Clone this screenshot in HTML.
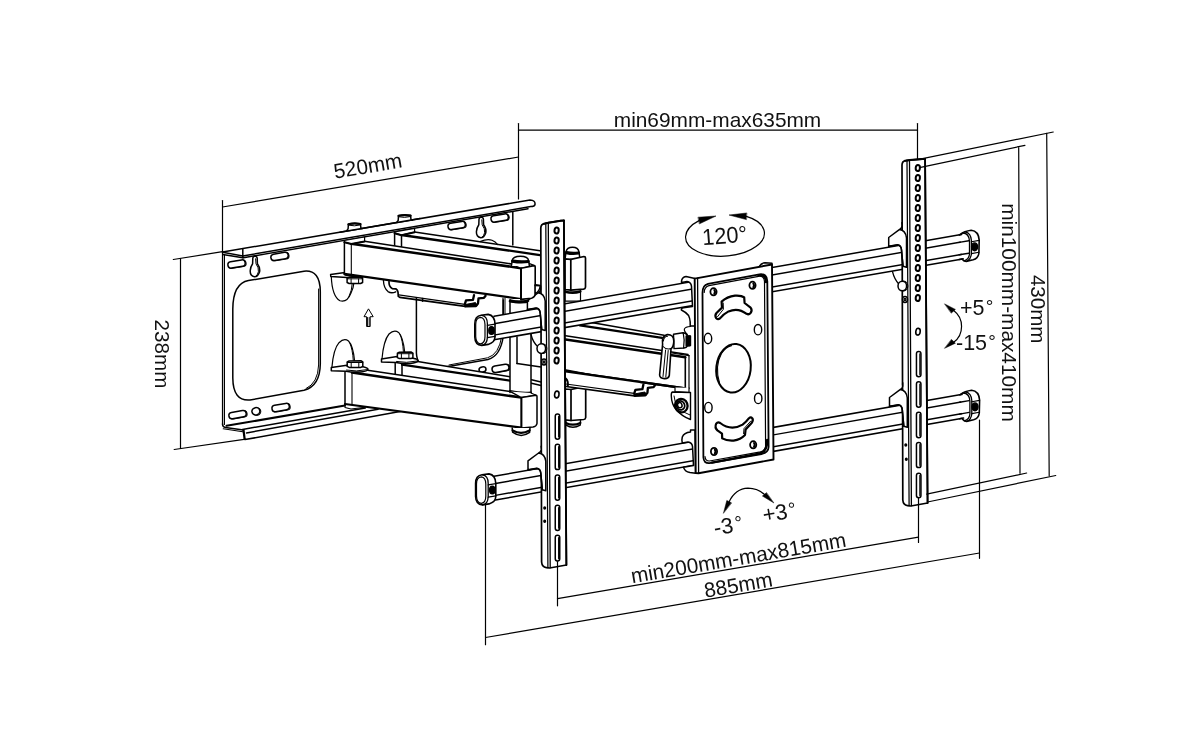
<!DOCTYPE html>
<html lang="en"><head><meta charset="utf-8"><title>TV wall mount dimensions</title>
<style>
html,body{margin:0;padding:0;background:#fff;}
body{width:1200px;height:750px;overflow:hidden;font-family:"Liberation Sans",sans-serif;}
svg{display:block;filter:grayscale(1);}
svg .ln *{fill:none;stroke:#000;stroke-linecap:round;stroke-linejoin:round;}
svg .ln .w{fill:#fff;}
svg .ln .k{fill:#000;}
svg text{font-family:"Liberation Sans",sans-serif;fill:#111;stroke:none;}
</style></head><body>
<svg width="1200" height="750" viewBox="0 0 1200 750">
<rect width="1200" height="750" fill="#fff"/>
<g class="ln">
<g id="plate">
<path class="w" d="M222.6 252.5 L222.6 423 Q222.6 427 226 427.2 L242.5 430.8 L245 439.2 L398 412.5 L512.8 380 L512.8 209.7 L242.8 255.9 Z" stroke-width="0.01"/>
<line x1="222.5" y1="252.5" x2="222.5" y2="424.0" stroke-width="1.2"/>
<line x1="224.4" y1="254.5" x2="224.4" y2="424.5" stroke-width="1.2"/>
<path d="M222.5 424 Q222.6 427.2 225.5 427.6 L243.3 430" stroke-width="1.5"/>
<path d="M223.2 428.8 L242.8 431.8" stroke-width="1.1"/>
<line x1="226.5" y1="425.8" x2="345.0" y2="405.6" stroke-width="2.0"/>
<line x1="242.5" y1="429.4" x2="365.3" y2="407.9" stroke-width="1.5"/>
<line x1="246.5" y1="432.9" x2="378.0" y2="409.3" stroke-width="1.5"/>
<line x1="245.0" y1="439.6" x2="400.0" y2="411.6" stroke-width="1.5"/>
<path d="M243.5 430 L244.6 438.8" stroke-width="2.2"/>
<path class="w" d="M222.6 252.0 L530 200.0 Q535.5 200.2 535 204.5 Q534.5 206.6 530.8 206.6 L242.8 255.9" stroke-width="1.5"/>
<line x1="243.5" y1="257.7" x2="528.0" y2="208.7" stroke-width="1.5"/>
<line x1="222.6" y1="252.2" x2="242.8" y2="255.9" stroke-width="1.5"/>
<line x1="222.8" y1="254.4" x2="242.8" y2="257.8" stroke-width="1.5"/>
<line x1="242.8" y1="249.0" x2="242.8" y2="257.8" stroke-width="1.5"/>
<line x1="512.8" y1="212.0" x2="512.8" y2="245.0" stroke-width="1.5"/>
<rect x="228.7" y="261.1" width="17.5" height="6.4" rx="3.2" transform="rotate(-9.5 237.4 264.3)" stroke-width="1.0"/>
<rect class="w" x="227.8" y="260.8" width="17.5" height="6.4" rx="3.2" transform="rotate(-9.5 236.5 264.0)" stroke-width="1.5"/>
<rect x="271.6" y="253.5" width="17.5" height="6.4" rx="3.2" transform="rotate(-9.5 280.4 256.7)" stroke-width="1.0"/>
<rect class="w" x="270.8" y="253.2" width="17.5" height="6.4" rx="3.2" transform="rotate(-9.5 279.5 256.4)" stroke-width="1.5"/>
<rect x="448.8" y="222.6" width="17.5" height="6.4" rx="3.2" transform="rotate(-9.5 457.6 225.8)" stroke-width="1.0"/>
<rect class="w" x="447.9" y="222.3" width="17.5" height="6.4" rx="3.2" transform="rotate(-9.5 456.7 225.5)" stroke-width="1.5"/>
<rect x="491.8" y="215.1" width="17.5" height="6.4" rx="3.2" transform="rotate(-9.5 500.5 218.3)" stroke-width="1.0"/>
<rect class="w" x="490.9" y="214.8" width="17.5" height="6.4" rx="3.2" transform="rotate(-9.5 499.6 218.0)" stroke-width="1.5"/>
<path class="w" d="M252.8 258.2 Q253.0 256.2 255.0 256.2 Q257.0 256.2 257.2 258.2 L257.4 263.8 Q260.3 267.8 259.6 271.8 Q258.0 276.8 254.5 276.8 Q250.0 275.8 250.2 270.8 Q250.5 266.8 252.6 263.8 Z" stroke-width="1.5"/>
<path d="M255.6 258.8 L256.0 263.8 Q259.0 267.8 258.4 271.8 Q257.6 274.8 256.0 276.2" stroke-width="1.0"/>
<path class="w" d="M479.0 219.2 Q479.2 217.2 481.2 217.2 Q483.2 217.2 483.4 219.2 L483.6 224.8 Q486.5 228.8 485.8 232.8 Q484.2 237.8 480.7 237.8 Q476.2 236.8 476.4 231.8 Q476.7 227.8 478.8 224.8 Z" stroke-width="1.5"/>
<path d="M481.8 219.8 L482.2 224.8 Q485.2 228.8 484.6 232.8 Q483.8 235.8 482.2 237.2" stroke-width="1.0"/>
<rect x="229.7" y="411.7" width="17.5" height="6.4" rx="3.2" transform="rotate(-10 238.4 414.9)" stroke-width="1.0"/>
<rect class="w" x="228.8" y="411.4" width="17.5" height="6.4" rx="3.2" transform="rotate(-10 237.5 414.6)" stroke-width="1.5"/>
<rect x="272.8" y="404.6" width="17.5" height="6.4" rx="3.2" transform="rotate(-10 281.6 407.8)" stroke-width="1.0"/>
<rect class="w" x="271.9" y="404.3" width="17.5" height="6.4" rx="3.2" transform="rotate(-10 280.7 407.5)" stroke-width="1.5"/>
<ellipse cx="256.8" cy="411.6" rx="4.0" ry="3.7" transform="rotate(-10 256.8 411.6)" stroke-width="1.0"/>
<ellipse class="w" cx="255.9" cy="411.3" rx="4.0" ry="3.7" transform="rotate(-10 255.9 411.3)" stroke-width="1.5"/>
<rect x="492.9" y="365.4" width="17.0" height="6.4" rx="3.2" transform="rotate(-10 501.4 368.6)" stroke-width="1.0"/>
<rect class="w" x="492.0" y="365.1" width="17.0" height="6.4" rx="3.2" transform="rotate(-10 500.5 368.3)" stroke-width="1.5"/>
<ellipse cx="482.5" cy="369.5" rx="3.5" ry="2.6" transform="rotate(-10 482.5 369.5)" stroke-width="1.5"/>
<path d="M232.8 309 Q233 283.5 248.5 280.6 L304 271.2 Q320.3 269.5 320.3 292 L320.3 364 Q320 386 304 390.3 L250 400 Q233 401.5 232.8 378 Z" stroke-width="1.5"/>
<path d="M318.6 289 L318.6 365 Q318 383 306 388.6" stroke-width="1.0"/>
<path d="M368.3 309.2 L364 316.7 L366.6 316.7 L366.6 326.5 L370.2 326.5 L370.2 316.7 L372.8 316.7 Z" stroke-width="1.0"/>
<path d="M367.5 317.5 L367.5 326 M369.2 317.5 L369.2 326" stroke-width="0.9"/>
<path d="M416.4 298 L416.4 353 Q417 367 430 369.6 L447 366.8 L488 359.4 Q500.5 356.2 503.3 336 L503.3 300" stroke-width="1.5"/>
<path d="M449 365 L487.5 357.8 Q499 354.6 501.8 336" stroke-width="1.0"/>
</g>
<g id="arms">
<path class="w" d="M331.3 276.4 Q332 296 340 300.8 Q347 303 351 293 Q353.5 288 353.8 283.5" stroke-width="1.2"/>
<path d="M352.2 284 Q352 290 349 296.5" stroke-width="1.0"/>
<path class="w" d="M330.6 274.6 L345 272.6 L345 275 L362.6 277.5 L347 277.6 L330.8 276.5 Z" stroke-width="1.5"/>
<path class="w" d="M347.1 278.3 L349.1 277.3 L360.6 277.0 L362.6 278.3 L362.6 282.5 L360.6 283.5 L349.1 283.5 L347.1 282.5 Z" stroke-width="1.5"/>
<path d="M351.1 278.8 L351.1 283.5 M358.6 278.8 L358.6 283.5 M347.1 278.8 L362.6 278.8" stroke-width="1.0"/>
<path class="w" d="M394.6 232.5 L414.6 230.5 L540.0 250.7 L540.0 262.0 L401.5 246.0 L394.6 245.7 Z" stroke-width="0.01"/>
<line x1="394.6" y1="232.5" x2="394.6" y2="245.7" stroke-width="1.5"/>
<line x1="401.5" y1="235.0" x2="401.5" y2="246.5" stroke-width="1.5"/>
<line x1="414.6" y1="231.9" x2="540.0" y2="250.7" stroke-width="1.5"/>
<path d="M401.5 235.0 L540 255.1" stroke-width="2.3"/>
<path d="M480 241.6 Q487 238.6 492 240.2 Q495.5 241.6 497.6 244.5" stroke-width="1.2"/>
<path class="w" d="M394.6 231.8 L414.6 228.4 L414.6 232 L401.5 235.2 L394.6 233.2 Z" stroke-width="1.2"/>
<path d="M394.6 233.2 L401.5 235.2 L414.6 232.2" stroke-width="2.0"/>
<path class="w" d="M344.4 241.9 L364.5 241.3 L511.4 263.9 L521.0 268.2 L521.0 299.0 L344.4 273.9 Z" stroke-width="0.01"/>
<line x1="344.4" y1="241.9" x2="344.4" y2="273.9" stroke-width="1.5"/>
<line x1="351.3" y1="243.8" x2="351.3" y2="274.8" stroke-width="1.1"/>
<line x1="364.5" y1="241.3" x2="511.4" y2="263.9" stroke-width="1.5"/>
<path d="M351.3 243.8 L521 268.2" stroke-width="2.5"/>
<path d="M344.4 273.9 L521 299" stroke-width="2.2"/>
<path class="w" d="M344.4 240.5 L364.6 237 L364.6 241.3 L351.3 244 L344.4 242.2 Z" stroke-width="1.2"/>
<path d="M344.4 242.2 L351.3 244 L364.6 241.5" stroke-width="2.0"/>
<path class="w" d="M346.8 230.6 L348.1 228.8 L348.4 224.2 Q354.3 222.8 360.5 224.0 L360.9 228.2 L362.1 228.6" stroke-width="1.5"/>
<path d="M348.4 224.2 Q354.3 222.8 360.5 224.0" stroke-width="2.2"/>
<path d="M348.7 225.2 Q354.3 226.6 360.3 225.0" stroke-width="1.0"/>
<path class="w" d="M396.9 222.2 L398.2 220.4 L398.5 215.8 Q404.4 214.4 410.6 215.6 L411.0 219.8 L412.2 220.2" stroke-width="1.5"/>
<path d="M398.5 215.8 Q404.4 214.4 410.6 215.6" stroke-width="2.2"/>
<path d="M398.8 216.8 Q404.4 218.2 410.4 216.6" stroke-width="1.0"/>
<line x1="340.0" y1="232.2" x2="420.0" y2="218.6" stroke-width="1.5"/>
<path d="M383.4 280.1 Q383.6 288 388 291.6 Q391.4 293.8 395.8 291.8" stroke-width="1.3"/>
<path d="M389 281.7 Q388.8 286.6 392.2 288.6 L395.8 288.8 Q397.8 290 398 292 L398.3 296.4 L399.8 297.4 L465.3 306.4" stroke-width="1.7"/>
<path d="M398.8 294.8 L464.8 304.3" stroke-width="1.2"/>
<line x1="422.6" y1="298.6" x2="422.6" y2="301.2" stroke-width="1.6"/>
<path d="M465.3 306.4 L476.0 306.0 L478.0 303.5 L478.5 298.4 L484.0 297.8 L485.6 295.8" stroke-width="2.3"/>
<path d="M464.8 304.3 L466.0 300.4 L473.0 299.8 L474.0 295.2" stroke-width="2.3"/>
<path class="k" d="M465.0 304.6 L475.5 302.6 L477.0 305.6 L465.3 306.2 Z" stroke-width="1.0"/>
<path class="w" d="M331.9 367.4 Q333.5 349 339 342.7 Q344 337.8 348.5 341 Q353 345.5 354.6 361" stroke-width="1.2"/>
<path d="M350 343.5 Q352.5 349 353.3 360.5" stroke-width="1.0"/>
<path class="w" d="M382 358.8 Q383.6 340.5 389 334 Q394 329.2 398.6 332.4 Q403 337 404.7 352" stroke-width="1.2"/>
<path d="M400 334.5 Q402.6 340 403.4 351.5" stroke-width="1.0"/>
<path class="w" d="M395.2 363.2 L417.7 361.3 L512.0 377.2 L540.0 382.0 L540.0 392.0 L402.0 375.0 L395.2 374.5 Z" stroke-width="0.01"/>
<line x1="395.2" y1="363.5" x2="395.2" y2="374.5" stroke-width="1.5"/>
<line x1="402.0" y1="364.5" x2="402.0" y2="375.0" stroke-width="1.5"/>
<line x1="417.7" y1="361.6" x2="511.0" y2="377.0" stroke-width="1.5"/>
<path d="M402 364.6 L511 380.8" stroke-width="2.3"/>
<line x1="531.5" y1="379.7" x2="541.0" y2="382.0" stroke-width="1.5"/>
<line x1="531.5" y1="383.2" x2="541.0" y2="385.4" stroke-width="1.5"/>
<path class="w" d="M381.5 359 L397 356.6 L413 358.3 Q418 359.2 418 360.8 Q417.5 362.8 410 363.4 Q402 363.8 396 362.6 L381.5 362 Z" stroke-width="1.5"/>
<path d="M396.5 361.5 Q406 363.5 417.5 361" stroke-width="1.0"/>
<path class="w" d="M397.4 353.2 L399.4 352.2 L410.9 351.9 L412.9 353.2 L412.9 357.6 L410.9 358.6 L399.4 358.6 L397.4 357.6 Z" stroke-width="1.5"/>
<path d="M401.4 353.7 L401.4 358.6 M408.9 353.7 L408.9 358.6 M397.4 353.7 L412.9 353.7" stroke-width="1.0"/>
<path class="w" d="M345.0 372.0 L367.6 370.1 L510.0 391.4 L521.4 397.6 L521.4 427.7 L345.0 404.0 Z" stroke-width="0.01"/>
<line x1="345.0" y1="372.0" x2="345.0" y2="404.0" stroke-width="1.5"/>
<line x1="352.0" y1="372.8" x2="352.0" y2="404.6" stroke-width="1.1"/>
<line x1="367.6" y1="370.3" x2="510.0" y2="391.4" stroke-width="1.5"/>
<path d="M352 372.6 L521.4 397.6" stroke-width="2.5"/>
<path d="M345 404 L521.4 427.7" stroke-width="2.2"/>
<path d="M345 404 L345 407.5 L351 409 L365 407.2" stroke-width="1.1"/>
<path class="w" d="M331.3 367.6 L347 365.3 L363 366.8 Q368 367.8 368 369.4 Q367.5 371.4 360 372 Q352 372.4 346 371.2 L331.3 370.8 Z" stroke-width="1.5"/>
<path d="M346.5 370.1 Q356 372.1 367.5 369.6" stroke-width="1.0"/>
<path class="w" d="M347.2 362.0 L349.2 361.0 L360.8 360.7 L362.8 362.0 L362.8 366.4 L360.8 367.4 L349.2 367.4 L347.2 366.4 Z" stroke-width="1.5"/>
<path d="M351.2 362.5 L351.2 367.4 M358.8 362.5 L358.8 367.4 M347.2 362.5 L362.8 362.5" stroke-width="1.0"/>
<path class="w" d="M510 299 L510 393 L531 396 L531 299 Z" stroke-width="0.01"/>
<line x1="510.0" y1="300.0" x2="510.0" y2="392.6" stroke-width="1.5"/>
<line x1="531.0" y1="300.0" x2="531.0" y2="394.0" stroke-width="1.5"/>
<line x1="503.0" y1="298.0" x2="503.0" y2="320.0" stroke-width="1.2"/>
<line x1="505.0" y1="298.0" x2="505.0" y2="320.0" stroke-width="1.0"/>
<line x1="517.0" y1="337.0" x2="517.0" y2="363.5" stroke-width="1.5"/>
<path d="M517 363.5 L541 367" stroke-width="1.6"/>
<path d="M510 301.5 Q520 304 531 301.5" stroke-width="1.6"/>
<path d="M510 299.8 Q520 302.3 531 299.8" stroke-width="1.2"/>
<path d="M510 391 Q520 393.5 531 392.6" stroke-width="2.0"/>
<path class="w" d="M510 391.4 L521.4 397.6 L536 395.2 L531 393" stroke-width="1.2"/>
<path class="w" d="M521.4 397.6 L536 395.2 Q537 395.3 537 396.5 L537 423.5 Q536.5 426.5 533 427 L521.4 428 Z" stroke-width="1.5"/>
<line x1="521.4" y1="397.6" x2="521.4" y2="428.0" stroke-width="1.8"/>
<path class="w" d="M512.2 428 L512.6 432.2 Q521 438.6 529.6 432.4 L530 428" stroke-width="1.5"/>
<path d="M512.6 430.4 Q521 435.4 529.6 430.4" stroke-width="2.2"/>
<path class="w" d="M580.0 325.0 L597.6 323.2 L664.0 335.0 L664.0 352.0 L580.0 338.0 Z" stroke-width="0.01"/>
<line x1="590.0" y1="322.3" x2="664.0" y2="335.3" stroke-width="1.5"/>
<path d="M580 325.3 L662 337.8" stroke-width="2.3"/>
<path class="w" d="M565.6 335.7 L687.8 354.5 L689.0 355.0 L689.0 388.6 L565.6 371.4 Z" stroke-width="0.01"/>
<line x1="565.6" y1="335.7" x2="688.0" y2="354.6" stroke-width="1.5"/>
<path d="M565.6 339.5 L685.3 357.2" stroke-width="2.5"/>
<path d="M565.6 371.4 L685.3 388.3" stroke-width="2.2"/>
<line x1="685.3" y1="357.2" x2="685.3" y2="388.3" stroke-width="1.6"/>
<line x1="689.0" y1="355.5" x2="689.0" y2="388.6" stroke-width="1.2"/>
<path d="M672 353 L689 355.6" stroke-width="1.2"/>
<path class="w" d="M565.7 420.5 L566.0 425.1 Q572.7 429.5 580.2 425.1 L580.5 420.5" stroke-width="1.4"/>
<path d="M565.8 422.9 Q572.7 426.5 580.4 422.9" stroke-width="2.2"/>
<path class="w" d="M565.2 389.0 L571.0 389.5 L584.2 386.7 Q585.7 386.7 585.7 388.3 L585.7 417.5 Q585.5 419.3 583.7 419.5 L571.0 420.5 L565.2 419.9 Z" stroke-width="1.7"/>
<line x1="571.0" y1="389.5" x2="571.0" y2="420.5" stroke-width="1.7"/>
<path class="w" d="M565.6 371.4 L640.0 382.0 L634.6 395.9 L565.6 386.5 Z" stroke-width="0.01"/>
<path d="M565.6 371.4 L685.3 388.3" stroke-width="2.2"/>
<path d="M566 386.5 L634.6 395.9" stroke-width="1.7"/>
<path d="M566 384 L634 393.4" stroke-width="1.2"/>
<path d="M565.8 378.6 Q568.4 381 567.8 386" stroke-width="2.0"/>
<path d="M634.7 395.8 L645.4 395.4 L647.4 392.9 L647.9 387.8 L653.4 387.2 L655.0 385.2" stroke-width="2.3"/>
<path d="M634.2 393.7 L635.4 389.8 L642.4 389.2 L643.4 384.6" stroke-width="2.3"/>
<path class="k" d="M634.4 394.0 L644.9 392.0 L646.4 395.0 L634.7 395.6 Z" stroke-width="1.0"/>
<line x1="566.0" y1="370.0" x2="600.0" y2="376.3" stroke-width="1.3"/>
<path class="w" d="M565.2 257.8 L566.0 252.0 Q566.8 247.3 572.5 247.3 Q578.2 247.3 579.0 252.0 L579.8 257.8" stroke-width="1.5"/>
<path d="M566.5 252.6 Q572.5 254.0 578.5 253.0" stroke-width="3.2"/>
<path class="w" d="M565.0 290.1 L565.0 301.1 L580.5 301.1 L580.5 290.1" stroke-width="1.2"/>
<path class="w" d="M565.0 258.8 L570.8 259.3 L584.0 256.5 Q585.5 256.5 585.5 258.1 L585.5 287.1 Q585.3 288.9 583.5 289.1 L570.8 290.1 L565.0 289.5 Z" stroke-width="1.7"/>
<line x1="570.8" y1="259.3" x2="570.8" y2="290.1" stroke-width="1.7"/>
<path d="M565.4 291.7 Q573.0 293.7 580.3 291.5" stroke-width="2.6"/>
<path class="w" d="M675 387.6 L675 391.5 L689 392.5 L689 387.8" stroke-width="1.2"/>
<path class="w" d="M672.5 392 Q671 392.5 671.3 396 Q671.5 404 676 409.5 Q682 416.5 690.5 419.5 L690.5 392.5 Z" stroke-width="1.4"/>
<path d="M674 396 Q674.5 403 678.5 408 Q683 412.5 690 415" stroke-width="1.0"/>
<ellipse class="w" cx="681.3" cy="405.6" rx="6.2" ry="6.8" transform="rotate(-20 681.3 405.6)" stroke-width="2.3"/>
<ellipse cx="680.6" cy="405.4" rx="4.0" ry="4.5" transform="rotate(-20 680.6 405.4)" stroke-width="1.8"/>
<ellipse cx="679.8" cy="405.2" rx="2.2" ry="2.6" transform="rotate(-20 679.8 405.2)" stroke-width="1.5"/>
<path class="w" d="M673.5 334.2 L683 332.8 Q686 333 687.5 336 L690.5 336 L690.5 345.6 L687.5 345.8 Q686.5 347.6 684 348 L674 348.6 Z" stroke-width="1.4"/>
<path d="M683.2 333 Q685 340 683.6 347.8" stroke-width="1.2"/>
<path d="M686.3 336.2 L686.3 345.8 M688 336 L688 345.8 M689.6 336 L689.6 345.6" stroke-width="1.7"/>
<path d="M687.3 334.5 Q680 327.2 690.5 326.5" stroke-width="1.2"/>
<path class="w" d="M662.6 344.5 Q661.2 336 667.2 334.6 Q673.6 334.2 673.8 341 Q673.8 346.5 671 348.8 L669.3 375.5 Q668.5 378.8 664.5 378.6 Q659.8 378.4 659.6 375 Z" stroke-width="1.6"/>
<path d="M663.4 341 Q663.8 336.6 667.5 336.3" stroke-width="1.1"/>
<path d="M665.6 350 L663 376.5 M668.2 350.5 L665.8 377" stroke-width="1.0"/>
<path d="M662.4 346 Q666 350 671 348.6" stroke-width="1.1"/>
</g>
<g id="tubes">
<path class="w" d="M494.0 316.2 L964.0 234.0 L964.0 258.7 L494.0 339.8 Z" stroke-width="0.01"/>
<line x1="494.0" y1="316.2" x2="964.0" y2="234.0" stroke-width="1.5"/>
<line x1="494.0" y1="323.7" x2="964.0" y2="241.5" stroke-width="1.45"/>
<line x1="494.0" y1="335.1" x2="964.0" y2="254.0" stroke-width="1.45"/>
<line x1="494.0" y1="339.8" x2="964.0" y2="258.7" stroke-width="1.5"/>
<path class="w" d="M481.2 315.3 Q474.8 316.0 474.8 324.0 L474.8 337.0 Q475.0 345.0 481.7 345.4 L488.2 344.4 Q494.8 342.5 495.0 337.0 L495.0 324.0 Q494.7 315.5 488.2 314.4 Z" stroke-width="1.6"/>
<path d="M480.6 317.4 Q475.7 317.8 475.7 324.5 L475.7 336.5 Q475.9 343.4 480.6 343.8 Q485.0 343.2 485.0 336.5 L485.0 324.5 Q484.8 317.8 480.6 317.4 Z" stroke-width="1.2"/>
<path d="M481.7 315.4 Q487.4 316.0 487.4 324.0 L487.4 337.0 Q487.2 344.6 481.7 345.4" stroke-width="1.3"/>
<line x1="487.4" y1="325.4" x2="495.0" y2="324.2" stroke-width="1.2"/>
<line x1="487.4" y1="337.6" x2="495.0" y2="336.4" stroke-width="1.2"/>
<ellipse class="k" cx="491.5" cy="330.5" rx="2.7" ry="3.9" transform="rotate(0 491.5 330.5)" stroke-width="1.4"/>
<path class="w" d="M960.2 234.4 Q964.2 231.2 971.2 230.2 Q978.6 231.0 979.2 240.0 L978.9 253.0 Q978.2 258.5 973.2 259.8 L966.2 261.4 Q963.6 261.2 962.2 259.2 Z" stroke-width="0.01"/>
<line x1="959.2" y1="234.9" x2="961.7" y2="234.4" stroke-width="1.5"/>
<line x1="959.2" y1="242.4" x2="968.8" y2="240.7" stroke-width="1.45"/>
<line x1="959.2" y1="254.8" x2="968.8" y2="253.2" stroke-width="1.45"/>
<line x1="959.2" y1="259.5" x2="963.2" y2="258.8" stroke-width="1.5"/>
<path d="M960.2 234.4 Q964.2 231.2 971.2 230.2 Q978.6 231.0 979.2 240.0 L978.9 253.0 Q978.2 258.5 973.2 259.8 L966.2 261.4 Q963.6 261.2 962.2 259.2" stroke-width="1.6"/>
<path d="M962.7 233.0 Q969.0 233.2 969.5 241.0 L969.5 254.0 Q969.0 259.4 964.2 260.8" stroke-width="1.3"/>
<path d="M965.2 231.8 Q971.0 233.0 971.4 240.5 L971.4 254.0 Q970.8 259.0 967.2 261.0" stroke-width="1.3"/>
<line x1="971.4" y1="241.8" x2="979.2" y2="240.4" stroke-width="1.1"/>
<line x1="971.4" y1="253.6" x2="978.9" y2="252.2" stroke-width="1.1"/>
<ellipse class="k" cx="974.6" cy="246.8" rx="3.0" ry="3.9" transform="rotate(0 974.6 246.8)" stroke-width="1.4"/>
<path class="w" d="M494.0 476.3 L964.0 394.0 L964.0 418.0 L494.0 500.3 Z" stroke-width="0.01"/>
<line x1="494.0" y1="476.3" x2="964.0" y2="394.0" stroke-width="1.5"/>
<line x1="494.0" y1="483.8" x2="964.0" y2="401.5" stroke-width="1.45"/>
<line x1="494.0" y1="495.6" x2="964.0" y2="413.3" stroke-width="1.45"/>
<line x1="494.0" y1="500.3" x2="964.0" y2="418.0" stroke-width="1.5"/>
<path class="w" d="M482.0 474.8 Q475.6 475.5 475.6 483.5 L475.6 496.5 Q475.8 504.5 482.5 504.9 L489.0 503.9 Q495.6 502.0 495.8 496.5 L495.8 483.5 Q495.5 475.0 489.0 473.9 Z" stroke-width="1.6"/>
<path d="M481.4 476.9 Q476.5 477.3 476.5 484.0 L476.5 496.0 Q476.7 502.9 481.4 503.3 Q485.8 502.7 485.8 496.0 L485.8 484.0 Q485.6 477.3 481.4 476.9 Z" stroke-width="1.2"/>
<path d="M482.5 474.9 Q488.2 475.5 488.2 483.5 L488.2 496.5 Q488.0 504.1 482.5 504.9" stroke-width="1.3"/>
<line x1="488.2" y1="484.9" x2="495.8" y2="483.7" stroke-width="1.2"/>
<line x1="488.2" y1="497.1" x2="495.8" y2="495.9" stroke-width="1.2"/>
<ellipse class="k" cx="492.3" cy="490.0" rx="2.7" ry="3.9" transform="rotate(0 492.3 490.0)" stroke-width="1.4"/>
<path class="w" d="M960.6 394.4 Q964.6 391.2 971.6 390.2 Q979.0 391.0 979.6 400.0 L979.3 413.0 Q978.6 418.5 973.6 419.8 L966.6 421.4 Q964.0 421.2 962.6 419.2 Z" stroke-width="0.01"/>
<line x1="959.6" y1="394.8" x2="962.1" y2="394.4" stroke-width="1.5"/>
<line x1="959.6" y1="402.3" x2="969.2" y2="400.6" stroke-width="1.45"/>
<line x1="959.6" y1="414.1" x2="969.2" y2="412.4" stroke-width="1.45"/>
<line x1="959.6" y1="418.8" x2="963.6" y2="418.1" stroke-width="1.5"/>
<path d="M960.6 394.4 Q964.6 391.2 971.6 390.2 Q979.0 391.0 979.6 400.0 L979.3 413.0 Q978.6 418.5 973.6 419.8 L966.6 421.4 Q964.0 421.2 962.6 419.2" stroke-width="1.6"/>
<path d="M963.1 393.0 Q969.4 393.2 969.9 401.0 L969.9 414.0 Q969.4 419.4 964.6 420.8" stroke-width="1.3"/>
<path d="M965.6 391.8 Q971.4 393.0 971.8 400.5 L971.8 414.0 Q971.2 419.0 967.6 421.0" stroke-width="1.3"/>
<line x1="971.8" y1="401.8" x2="979.6" y2="400.4" stroke-width="1.1"/>
<line x1="971.8" y1="413.6" x2="979.3" y2="412.2" stroke-width="1.1"/>
<ellipse class="k" cx="975.0" cy="406.8" rx="3.0" ry="3.9" transform="rotate(0 975.0 406.8)" stroke-width="1.4"/>
</g>
<g id="center">
<path class="w" d="M695 278.5 L686 276.5 Q682 277 681.5 281.2 L681.6 282.6 L687 281.5 Q691 282 691.5 286.2 L692.5 306.5 L683.5 307.8 Q681 308.2 681.4 310 Q686.5 312.5 688.6 315.5 Q689.8 318 690.2 322 L690.2 326 L695 326 Z" stroke-width="1.5"/>
<path class="w" d="M695 430 L690.5 430 L690.5 432 Q684 432.6 682.3 437 Q681.4 440.5 682.3 443 L688 442 Q692 442.5 692.5 446.3 L693.5 465.6 L683.5 467.2 Q684.5 471.6 690 472.6 L695.6 473.2 Z" stroke-width="1.5"/>
<path class="w" d="M759 266.8 Q761 263 765 262.8 L772 263.2 L772 265" stroke-width="1.4"/>
<path class="w" d="M694.7 278.6 L772 264.5 L773.5 459.5 L698.5 473.2 L695.7 473 Z" stroke-width="1.9"/>
<line x1="697.6" y1="278.2" x2="698.6" y2="473.2" stroke-width="1.3"/>
<path d="M702.5 293 Q702.4 285.2 708 283.8 L759.5 274.3 Q767 273.4 767.3 281 L768.6 447 Q768.4 452.6 761.5 454 L709.5 463.2 Q703.8 463.6 703.4 457.5 Z" stroke-width="1.8"/>
<path d="M704.2 292.5 Q704.2 287 709 285.6 L758.5 276.3 Q764.2 275.6 764.5 281.5 L765.6 446.6 Q765.4 450.6 760.5 451.8 L709.5 461 Q705.3 461.2 705 456.5" stroke-width="1.2"/>
<path d="M758.5 275.4 Q766 274.6 766 282" stroke-width="2.4"/>
<path d="M767.2 440 Q767.5 452 759 453.6 L712 462.6" stroke-width="2.4"/>
<ellipse cx="713.5" cy="291.8" rx="3.1" ry="3.6" transform="rotate(0 713.5 291.8)" stroke-width="1.8"/>
<path d="M714.3 290.0 Q715.7 291.8 714.3 293.8" stroke-width="2.0"/>
<ellipse cx="752.5" cy="285.3" rx="3.1" ry="3.6" transform="rotate(0 752.5 285.3)" stroke-width="1.8"/>
<path d="M753.3 283.5 Q754.7 285.3 753.3 287.3" stroke-width="2.0"/>
<ellipse cx="714.0" cy="451.5" rx="3.1" ry="3.6" transform="rotate(0 714.0 451.5)" stroke-width="1.8"/>
<path d="M714.8 449.7 Q716.2 451.5 714.8 453.5" stroke-width="2.0"/>
<ellipse cx="753.2" cy="444.8" rx="3.1" ry="3.6" transform="rotate(0 753.2 444.8)" stroke-width="1.8"/>
<path d="M754.0 443.0 Q755.4 444.8 754.0 446.8" stroke-width="2.0"/>
<ellipse cx="708.0" cy="338.5" rx="3.7" ry="5.2" transform="rotate(0 708.0 338.5)" stroke-width="1.4"/>
<ellipse cx="758.0" cy="329.7" rx="3.7" ry="5.2" transform="rotate(0 758.0 329.7)" stroke-width="1.4"/>
<ellipse cx="708.4" cy="407.6" rx="3.7" ry="5.2" transform="rotate(0 708.4 407.6)" stroke-width="1.4"/>
<ellipse cx="758.2" cy="398.4" rx="3.7" ry="5.2" transform="rotate(0 758.2 398.4)" stroke-width="1.4"/>
<ellipse cx="733.5" cy="368.2" rx="17.2" ry="24.4" transform="rotate(7 733.5 368.2)" stroke-width="2.0"/>
<path d="M719.5 383 Q714.5 366 721.5 353.5 Q725.5 347 731.5 345.6" stroke-width="1.1"/>
<path d="M716.3 318.3 Q714.4 315.5 716.5 313 L722 307.6 L721.6 301.6 Q727 296.6 735 295.6 Q741.5 295.2 744.2 297.4 L744.6 303 L750.6 307.6 Q752.6 310 750.6 313 Q748.8 315 746.6 313.8 Q738 307.2 728.5 311.4 Q723.6 314 720 318.4 Q718 320 716.3 318.3 Z" stroke-width="2.2"/>
<path d="M717.6 316.6 L723.4 309.2 L723.2 303" stroke-width="1.0"/>
<path d="M716.2 423.6 Q717.8 421.6 720.2 423 Q731 431.4 742.6 424.6 Q746.6 421.6 749 418.2 Q750.8 416.6 752.4 418.4 Q753.6 420.4 751.6 423 L745.6 429.6 L745 435 Q740.6 439.6 733.6 440.6 Q726.6 441 722.2 438.4 L722 433.6 L717.4 430.4 Q714.4 427.4 716.2 423.6 Z" stroke-width="2.2"/>
<path d="M750.8 421 L744 428.6 L743.6 433.6" stroke-width="1.0"/>
</g>
<g id="brackets">
<path class="w" d="M540.8 228.1 Q540.8 224.0 544.8 223.6 L548.6 222.7 L560.9 220.7 L563.9 220.5 L566.4 565.0 L549.6 568.0 L546.3 567.6 Q542.0 567.0 541.6 562.0 Z" stroke-width="1.7"/>
<line x1="545.8" y1="223.3" x2="547.9" y2="567.7" stroke-width="1.25"/>
<line x1="548.3" y1="223.1" x2="550.2" y2="567.7" stroke-width="1.3"/>
<line x1="563.9" y1="220.5" x2="566.4" y2="565.0" stroke-width="1.8"/>
<path d="M543.8 223.7 L548.6 222.7 L560.9 220.7 L563.9 220.5" stroke-width="2.0"/>
<ellipse cx="556.6" cy="230.5" rx="2.1" ry="3.0" transform="rotate(7 556.6 230.5)" stroke-width="2.0"/>
<ellipse cx="556.6" cy="240.5" rx="2.1" ry="3.0" transform="rotate(7 556.6 240.5)" stroke-width="2.0"/>
<ellipse cx="556.6" cy="250.5" rx="2.1" ry="3.0" transform="rotate(7 556.6 250.5)" stroke-width="2.0"/>
<ellipse cx="556.6" cy="260.5" rx="2.1" ry="3.0" transform="rotate(7 556.6 260.5)" stroke-width="2.0"/>
<ellipse cx="556.6" cy="270.5" rx="2.1" ry="3.0" transform="rotate(7 556.6 270.5)" stroke-width="2.0"/>
<ellipse cx="556.6" cy="280.5" rx="2.1" ry="3.0" transform="rotate(7 556.6 280.5)" stroke-width="2.0"/>
<ellipse cx="556.6" cy="290.5" rx="2.1" ry="3.0" transform="rotate(7 556.6 290.5)" stroke-width="2.0"/>
<ellipse cx="556.6" cy="300.5" rx="2.1" ry="3.0" transform="rotate(7 556.6 300.5)" stroke-width="2.0"/>
<ellipse cx="556.6" cy="310.5" rx="2.1" ry="3.0" transform="rotate(7 556.6 310.5)" stroke-width="2.0"/>
<ellipse cx="556.6" cy="320.5" rx="2.1" ry="3.0" transform="rotate(7 556.6 320.5)" stroke-width="2.0"/>
<ellipse cx="556.6" cy="330.5" rx="2.1" ry="3.0" transform="rotate(7 556.6 330.5)" stroke-width="2.0"/>
<ellipse cx="556.6" cy="340.5" rx="2.1" ry="3.0" transform="rotate(7 556.6 340.5)" stroke-width="2.0"/>
<ellipse cx="556.6" cy="350.5" rx="2.1" ry="3.0" transform="rotate(7 556.6 350.5)" stroke-width="2.0"/>
<ellipse cx="556.6" cy="360.5" rx="2.1" ry="3.0" transform="rotate(7 556.6 360.5)" stroke-width="2.0"/>
<ellipse cx="556.8" cy="394.5" rx="2.2" ry="3.4" transform="rotate(8 556.8 394.5)" stroke-width="1.6"/>
<rect x="555.25" y="414.0" width="4.5" height="25.3" rx="2.2" stroke-width="1.5"/>
<path d="M558.65 416.3 L558.65 437.0" stroke-width="1.2"/>
<rect x="555.25" y="444.2" width="4.5" height="25.4" rx="2.2" stroke-width="1.5"/>
<path d="M558.65 446.5 L558.65 467.3" stroke-width="1.2"/>
<rect x="555.25" y="475.0" width="4.5" height="25.3" rx="2.2" stroke-width="1.5"/>
<path d="M558.65 477.3 L558.65 498.0" stroke-width="1.2"/>
<rect x="555.25" y="505.2" width="4.5" height="25.3" rx="2.2" stroke-width="1.5"/>
<path d="M558.65 507.5 L558.65 528.2" stroke-width="1.2"/>
<rect x="555.25" y="535.2" width="4.5" height="25.7" rx="2.2" stroke-width="1.5"/>
<path d="M558.65 537.5 L558.65 558.6" stroke-width="1.2"/>
<path class="w" d="M541.2 446.2 L541.2 449.7 Q541.0 452.0 538.6 453.0 L528.0 460.9 L528.0 469.7 L536.8 468.2 Q540.3 468.7 540.8 473.2 L542.3 489.7 L545.8 490.7 L545.8 461.2 Q544.8 453.7 538.6 453.0" stroke-width="1.5"/>
<path d="M528.0 470.0 L536.8 468.4 Q540.5 468.7 540.8 473.2 L542.3 489.7" stroke-width="1.5"/>
<ellipse class="k" cx="544.7" cy="508.0" rx="0.9" ry="1.1" transform="rotate(0 544.7 508.0)" stroke-width="1.3"/>
<ellipse class="k" cx="544.7" cy="521.3" rx="0.9" ry="1.1" transform="rotate(0 544.7 521.3)" stroke-width="1.3"/>
<path class="w" d="M540.6 286.0 L540.6 289.5 Q540.4 291.8 538.0 292.8 L527.4 300.7 L527.4 309.5 L536.2 308.0 Q539.7 308.5 540.2 313.0 L541.7 329.5 L545.2 330.5 L545.2 301.0 Q544.2 293.5 538.0 292.8" stroke-width="1.5"/>
<path d="M527.4 309.8 L536.2 308.2 Q539.9 308.5 540.2 313.0 L541.7 329.5" stroke-width="1.5"/>
<path d="M531.0 334.5 Q533.0 342.5 537.8 346.6" stroke-width="1.3"/>
<ellipse class="w" cx="542.5" cy="348.6" rx="4.3" ry="4.8" transform="rotate(0 542.5 348.6)" stroke-width="1.2"/>
<ellipse class="w" cx="541.3" cy="348.6" rx="4.3" ry="4.8" transform="rotate(0 541.3 348.6)" stroke-width="1.5"/>
<ellipse class="w" cx="544.0" cy="362.0" rx="2.5" ry="2.9" transform="rotate(0 544.0 362.0)" stroke-width="1.5"/>
<ellipse cx="544.0" cy="362.0" rx="0.9" ry="1.1" transform="rotate(0 544.0 362.0)" stroke-width="1.3"/>
<path class="w" d="M902.0 165.1 Q902.0 161.0 906.0 160.6 L909.8 160.1 L922.1 159.1 L925.1 158.9 L927.6 503.0 L910.8 506.0 L907.5 505.6 Q903.2 505.0 902.8 500.0 Z" stroke-width="1.7"/>
<line x1="907.0" y1="160.7" x2="909.1" y2="505.7" stroke-width="1.25"/>
<line x1="909.5" y1="160.5" x2="911.4" y2="505.7" stroke-width="1.3"/>
<line x1="925.1" y1="158.9" x2="927.6" y2="503.0" stroke-width="1.8"/>
<path d="M905.0 160.7 L909.8 160.1 L922.1 159.1 L925.1 158.9" stroke-width="2.0"/>
<ellipse cx="917.8" cy="168.0" rx="2.1" ry="3.0" transform="rotate(7 917.8 168.0)" stroke-width="2.0"/>
<ellipse cx="917.8" cy="178.0" rx="2.1" ry="3.0" transform="rotate(7 917.8 178.0)" stroke-width="2.0"/>
<ellipse cx="917.8" cy="188.0" rx="2.1" ry="3.0" transform="rotate(7 917.8 188.0)" stroke-width="2.0"/>
<ellipse cx="917.8" cy="198.0" rx="2.1" ry="3.0" transform="rotate(7 917.8 198.0)" stroke-width="2.0"/>
<ellipse cx="917.8" cy="208.0" rx="2.1" ry="3.0" transform="rotate(7 917.8 208.0)" stroke-width="2.0"/>
<ellipse cx="917.8" cy="218.0" rx="2.1" ry="3.0" transform="rotate(7 917.8 218.0)" stroke-width="2.0"/>
<ellipse cx="917.8" cy="228.0" rx="2.1" ry="3.0" transform="rotate(7 917.8 228.0)" stroke-width="2.0"/>
<ellipse cx="917.8" cy="238.0" rx="2.1" ry="3.0" transform="rotate(7 917.8 238.0)" stroke-width="2.0"/>
<ellipse cx="917.8" cy="248.0" rx="2.1" ry="3.0" transform="rotate(7 917.8 248.0)" stroke-width="2.0"/>
<ellipse cx="917.8" cy="258.0" rx="2.1" ry="3.0" transform="rotate(7 917.8 258.0)" stroke-width="2.0"/>
<ellipse cx="917.8" cy="268.0" rx="2.1" ry="3.0" transform="rotate(7 917.8 268.0)" stroke-width="2.0"/>
<ellipse cx="917.8" cy="278.0" rx="2.1" ry="3.0" transform="rotate(7 917.8 278.0)" stroke-width="2.0"/>
<ellipse cx="917.8" cy="288.0" rx="2.1" ry="3.0" transform="rotate(7 917.8 288.0)" stroke-width="2.0"/>
<ellipse cx="917.8" cy="298.0" rx="2.1" ry="3.0" transform="rotate(7 917.8 298.0)" stroke-width="2.0"/>
<ellipse cx="918.0" cy="331.7" rx="2.2" ry="3.4" transform="rotate(8 918.0 331.7)" stroke-width="1.6"/>
<rect x="916.45" y="351.5" width="4.5" height="25.3" rx="2.2" stroke-width="1.5"/>
<path d="M919.85 353.8 L919.85 374.5" stroke-width="1.2"/>
<rect x="916.45" y="381.7" width="4.5" height="25.6" rx="2.2" stroke-width="1.5"/>
<path d="M919.85 384.0 L919.85 405.0" stroke-width="1.2"/>
<rect x="916.45" y="412.2" width="4.5" height="25.6" rx="2.2" stroke-width="1.5"/>
<path d="M919.85 414.5 L919.85 435.5" stroke-width="1.2"/>
<rect x="916.45" y="442.4" width="4.5" height="25.2" rx="2.2" stroke-width="1.5"/>
<path d="M919.85 444.7 L919.85 465.3" stroke-width="1.2"/>
<rect x="916.45" y="473.2" width="4.5" height="24.6" rx="2.2" stroke-width="1.5"/>
<path d="M919.85 475.5 L919.85 495.5" stroke-width="1.2"/>
<path class="w" d="M902.7 382.8 L902.7 386.3 Q902.5 388.6 900.1 389.6 L889.5 397.5 L889.5 406.3 L898.3 404.8 Q901.8 405.3 902.3 409.8 L903.8 426.3 L907.3 427.3 L907.3 397.8 Q906.3 390.3 900.1 389.6" stroke-width="1.5"/>
<path d="M889.5 406.6 L898.3 405.0 Q902.0 405.3 902.3 409.8 L903.8 426.3" stroke-width="1.5"/>
<ellipse class="k" cx="905.8" cy="445.0" rx="0.9" ry="1.1" transform="rotate(0 905.8 445.0)" stroke-width="1.3"/>
<ellipse class="k" cx="906.3" cy="459.2" rx="0.9" ry="1.1" transform="rotate(0 906.3 459.2)" stroke-width="1.3"/>
<path class="w" d="M901.9 222.8 L901.9 226.3 Q901.7 228.6 899.3 229.6 L888.7 237.5 L888.7 246.3 L897.5 244.8 Q901.0 245.3 901.5 249.8 L903.0 266.3 L906.5 267.3 L906.5 237.8 Q905.5 230.3 899.3 229.6" stroke-width="1.5"/>
<path d="M888.7 246.6 L897.5 245.0 Q901.2 245.3 901.5 249.8 L903.0 266.3" stroke-width="1.5"/>
<path d="M892.5 271.7 Q894.5 279.7 898.8 284.0" stroke-width="1.3"/>
<ellipse class="w" cx="903.5" cy="286.0" rx="4.3" ry="4.8" transform="rotate(0 903.5 286.0)" stroke-width="1.2"/>
<ellipse class="w" cx="902.3" cy="286.0" rx="4.3" ry="4.8" transform="rotate(0 902.3 286.0)" stroke-width="1.5"/>
<ellipse class="w" cx="905.0" cy="299.5" rx="2.5" ry="2.9" transform="rotate(0 905.0 299.5)" stroke-width="1.5"/>
<ellipse cx="905.0" cy="299.5" rx="0.9" ry="1.1" transform="rotate(0 905.0 299.5)" stroke-width="1.3"/>
<path class="w" d="M511.4 264.2 L521 268.4 L534.6 265.6 L527 262.6" stroke-width="1.2"/>
<path class="w" d="M511.4 266.0 L512.2 260.6 Q512.9 256.2 520.4 256.2 Q527.9 256.2 528.6 260.6 L529.4 266.0" stroke-width="1.5"/>
<path d="M512.6 261.1 Q520.4 262.5 528.2 261.5" stroke-width="3.2"/>
<path class="w" d="M521 268.2 L534 265.6 Q535.2 265.6 535.2 266.8 L535.2 294 Q534.8 297.6 531.5 298.2 L521 299.4 Z" stroke-width="1.6"/>
<line x1="521.0" y1="268.2" x2="521.0" y2="299.4" stroke-width="1.9"/>
<path class="w" d="M535.2 284.6 L535.2 293.6 Q539.6 291.5 540.2 285.6 Z" stroke-width="1.3"/>
<line x1="535.2" y1="285.4" x2="540.2" y2="285.6" stroke-width="1.8"/>
<path d="M510 301 Q519 303.2 528 300.8" stroke-width="2.6"/>
</g>
<g id="arrows">
<path d="M699 220.6 A39.5 21 -4 1 0 746.4 216.4" stroke-width="1.2"/>
<path class="k" d="M698.3 217.2 L716 216 L699.6 223.8 Z" stroke-width="0.5"/>
<path class="k" d="M746.5 213 L729 215 L746.2 219.6 Z" stroke-width="0.5"/>
<path d="M953.7 310.5 A20 20 0 0 1 953.7 342.3" stroke-width="1.2"/>
<path class="k" d="M944.8 304 L955.4 309.4 L951.4 313 Z" stroke-width="0.5"/>
<path class="k" d="M944.8 348.2 L955.4 343.2 L951.6 339.6 Z" stroke-width="0.5"/>
<path d="M729 502 Q735.5 488.5 748 488.2 Q758 488.4 765 495" stroke-width="1.2"/>
<path class="k" d="M723.5 513 L726.8 500.4 L731.4 502.8 Z" stroke-width="0.5"/>
<path class="k" d="M773.6 502.8 L762.4 496 L766.3 492.8 Z" stroke-width="0.5"/>
</g>
<g id="dims">
<line x1="222.5" y1="200.5" x2="222.5" y2="252" stroke-width="1.2" />
<line x1="222.5" y1="207" x2="518.5" y2="157" stroke-width="1.2" />
<line x1="518.5" y1="123.5" x2="518.5" y2="199" stroke-width="1.2" />
<line x1="518.5" y1="130.2" x2="917.5" y2="130.2" stroke-width="1.2" />
<line x1="917.5" y1="123.5" x2="917.5" y2="159" stroke-width="1.2" />
<line x1="180.5" y1="258.5" x2="180.5" y2="448.3" stroke-width="1.2" />
<line x1="173.3" y1="259.5" x2="222.5" y2="251.7" stroke-width="1.2" />
<line x1="174.2" y1="449.5" x2="245.8" y2="439.2" stroke-width="1.2" />
<line x1="920" y1="159.2" x2="1053.3" y2="132" stroke-width="1.2" />
<line x1="919.5" y1="167.6" x2="1025" y2="145.3" stroke-width="1.2" />
<line x1="1018.7" y1="147.5" x2="1020" y2="473.3" stroke-width="1.2" />
<line x1="1046.7" y1="133.3" x2="1049.2" y2="475.8" stroke-width="1.2" />
<line x1="926.7" y1="494.2" x2="1026.7" y2="473" stroke-width="1.2" />
<line x1="927.5" y1="502" x2="1055.8" y2="475.5" stroke-width="1.2" />
<line x1="485.5" y1="505" x2="485.5" y2="644.7" stroke-width="1.2" />
<line x1="485.5" y1="637.5" x2="979.5" y2="553" stroke-width="1.2" />
<line x1="979.5" y1="420" x2="979.5" y2="558.3" stroke-width="1.2" />
<line x1="557.5" y1="561.5" x2="557.5" y2="605.8" stroke-width="1.2" />
<line x1="557.5" y1="598.6" x2="918.5" y2="537.2" stroke-width="1.2" />
<line x1="918.5" y1="498" x2="918.5" y2="542.5" stroke-width="1.2" />
</g>
</g>
<text x="369" y="173" font-size="21" text-anchor="middle" transform="rotate(-9.6 369 173)" textLength="69" lengthAdjust="spacingAndGlyphs">520mm</text>
<text x="717.5" y="127.3" font-size="21" text-anchor="middle" transform="rotate(0 717.5 127.3)" textLength="207.5" lengthAdjust="spacingAndGlyphs">min69mm-max635mm</text>
<text x="155" y="354" font-size="21" text-anchor="middle" transform="rotate(90 155 354)" textLength="69" lengthAdjust="spacingAndGlyphs">238mm</text>
<text x="1002.3" y="312.5" font-size="21" text-anchor="middle" transform="rotate(90 1002.3 312.5)" textLength="218.5" lengthAdjust="spacingAndGlyphs">min100mm-max410mm</text>
<text x="1030.6" y="309.2" font-size="21" text-anchor="middle" transform="rotate(90 1030.6 309.2)" textLength="68.5" lengthAdjust="spacingAndGlyphs">430mm</text>
<text x="739.6" y="565" font-size="21" text-anchor="middle" transform="rotate(-9.7 739.6 565)" textLength="218" lengthAdjust="spacingAndGlyphs">min200mm-max815mm</text>
<text x="739.5" y="592" font-size="21" text-anchor="middle" transform="rotate(-9.7 739.5 592)" textLength="69" lengthAdjust="spacingAndGlyphs">885mm</text>
<text x="725.3" y="243.4" font-size="23" text-anchor="middle" transform="rotate(-4.5 725.3 243.4)" textLength="45" lengthAdjust="spacingAndGlyphs">120°</text>
<text x="960" y="315" font-size="21.5" transform="rotate(0 960 315)">+5<tspan font-size="19" dx="1.3" dy="-1.8">°</tspan></text>
<text x="956" y="349.8" font-size="21.5" transform="rotate(0 956 349.8)">-15<tspan font-size="19" dx="1.2" dy="-1.6">°</tspan></text>
<text x="715.0" y="535.5" font-size="22" transform="rotate(-9.7 715.0 535.5)">-3<tspan font-size="19" dx="2.0" dy="-2.1">°</tspan></text>
<text x="763.9" y="522.6" font-size="22" transform="rotate(-9.7 763.9 522.6)">+3<tspan font-size="19" dx="1.2" dy="-2.0">°</tspan></text>
</svg>
</body></html>
